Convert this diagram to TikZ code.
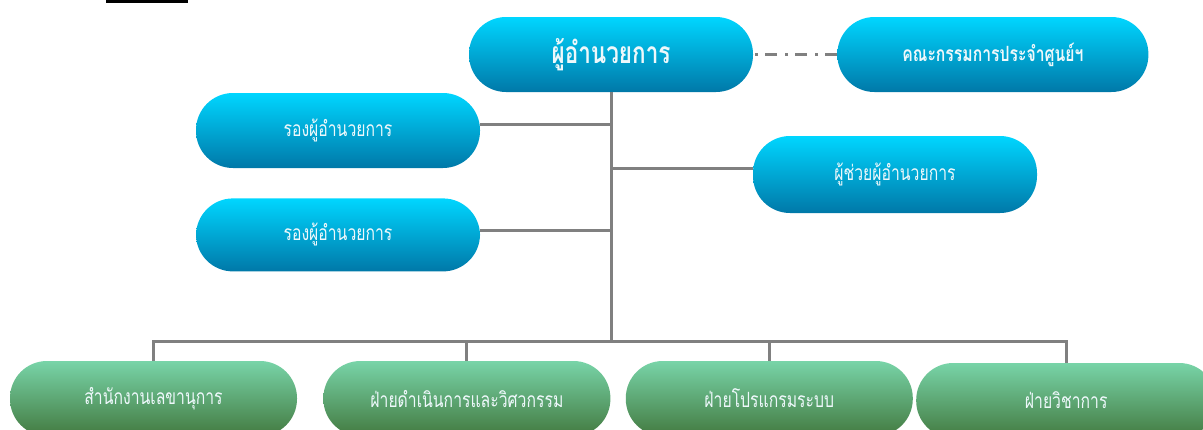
\documentclass[tikz,border=0pt]{standalone}
\usepackage{fontspec}
\newfontfamily\thaifont[Script=Thai,FakeStretch=0.75]{Loma}
\usetikzlibrary{positioning}

\definecolor{bluetop}{HTML}{00D6FF}
\definecolor{bluemid}{HTML}{00BCE8}
\definecolor{bluebot}{HTML}{0078A8}
\definecolor{greentop}{HTML}{78D4A8}
\definecolor{greenmid}{HTML}{62AE86}
\definecolor{greenbot}{HTML}{437A40}
\definecolor{linegray}{HTML}{808080}
\definecolor{txtwhite}{HTML}{EEF8FB}

\tikzset{
  pill/.style={rectangle, rounded corners=37pt, minimum width=284pt, minimum height=75pt, text=txtwhite, inner sep=0pt, font=\thaifont\fontsize{21}{24}\selectfont},
  bluepill/.style={pill, top color=bluetop, middle color=bluemid, bottom color=bluebot},
  greenpill/.style={pill, minimum width=287pt, top color=greentop, middle color=greenmid, bottom color=greenbot},
  link/.style={draw=linegray, line width=3pt}
}

\begin{document}
\begin{tikzpicture}[x=1pt, y=-1pt]
  \useasboundingbox (0,0) rectangle (1203,429);
  \clip (0,0) rectangle (1203,429);
  \fill[black] (106,0) rectangle (188,2.5);

  % top row
  \node[bluepill, font=\thaifont\bfseries\fontsize{30}{34}\selectfont] (dir) at (611,54.5) {ผู้อำนวยการ};
  \node[bluepill, minimum width=311pt, font=\thaifont\bfseries\fontsize{21}{24}\selectfont, right=84pt of dir] (kom) {คณะกรรมการประจำศูนย์ฯ};

  % deputies and assistant
  \node[bluepill] (rong1) at (338,130.5) {รองผู้อำนวยการ};
  \node[bluepill, minimum height=73pt, below=30pt of rong1] (rong2) {รองผู้อำนวยการ};
  \node[bluepill, minimum height=77pt] (asst) at (895,174.5) {ผู้ช่วยผู้อำนวยการ};

  % divisions
  \node[greenpill] (b1) at (153.5,398.5) {สำนักงานเลขานุการ};
  \node[greenpill, right=26pt of b1] (b2) {ฝ่ายดำเนินการและวิศวกรรม};
  \node[greenpill, right=15pt of b2] (b3) {ฝ่ายโปรแกรมระบบ};
  \node[greenpill, minimum width=300pt, right=3pt of b3, yshift=-2pt] (b4) {ฝ่ายวิชาการ};

  \coordinate (j1) at (611,124);
  \coordinate (j2) at (611,168);
  \coordinate (j3) at (611,230);
  \coordinate (bus) at (611,341);

  \draw[link] (dir.south) -- (bus);
  \draw[link] (j1) -- (j1 -| rong1.east);
  \draw[link] (j3) -- (j3 -| rong2.east);
  \draw[link] (j2) -- (j2 -| asst.west);
  \draw[link, dash pattern=on 12pt off 7pt on 3pt off 8pt] (kom.west) -- (dir.east);

  \draw[link] (b1.north) -- (b1.north |- bus) -- (b4.north |- bus) -- (b4.north);
  \foreach \n in {b2,b3}
    \draw[link] (\n.north) -- (\n.north |- bus);
\end{tikzpicture}
\end{document}
